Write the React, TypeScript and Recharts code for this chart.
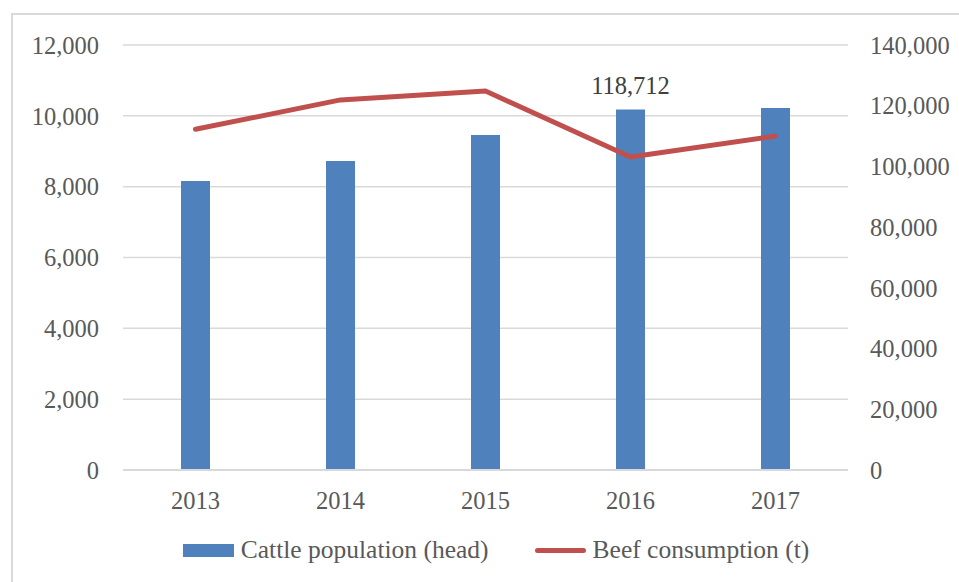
import { ComposedChart, Bar, Line, XAxis, YAxis, CartesianGrid, Legend, LabelList } from "recharts";

const years = ["2013", "2014", "2015", "2016", "2017"];
const cattle = [95200, 101800, 110350, 118712, 119250];
const beef = [9620, 10450, 10700, 8840, 9430];
const cattleLabels = ["", "", "", "118,712", ""];
const leftTicks = [0, 2000, 4000, 6000, 8000, 10000, 12000];
const rightTicks = [0, 20000, 40000, 60000, 80000, 100000, 120000, 140000];

const data = years.map((year, i) => ({
  year,
  cattle: cattle[i],
  beef: beef[i],
  label: cattleLabels[i],
}));

const FONT = "'Liberation Serif', serif";
const TEXT = "#595959";
const BLUE = "#4f81bd";
const RED = "#c0504d";

const fmt = (v: number) => v.toLocaleString("en-US");

const BarLabel = (props: any) => {
  const { x, y, width, index } = props;
  const text = cattleLabels[index];
  if (!text) return null;
  return (
    <text x={x + width / 2} y={y - 16} textAnchor="middle" fill="#404040" fontSize={24.5} fontFamily={FONT}>
      {text}
    </text>
  );
};

const LegendBox = () => (
  <div style={{ display: "flex", justifyContent: "center", alignItems: "center", fontFamily: FONT, fontSize: 25.5, color: TEXT, height: 28, paddingLeft: 33 }}>
    <span style={{ display: "inline-block", width: 51, height: 13, background: BLUE, marginRight: 7 }} />
    <span>Cattle population (head)</span>
    <span style={{ display: "inline-block", width: 51, height: 5, borderRadius: 3, background: RED, marginLeft: 46, marginRight: 7 }} />
    <span>Beef consumption (t)</span>
  </div>
);

export default function App() {
  return (
    <div style={{ position: "fixed", left: 0, top: 0, width: 959, height: 582, background: "#fff", overflow: "hidden" }}>
      <div style={{ position: "absolute", left: 11, top: 13, width: 960, height: 580, borderLeft: "2px solid #d9d9d9", borderTop: "2px solid #d9d9d9" }} />
      <ComposedChart
        width={959}
        height={582}
        data={data}
        margin={{ top: 45, right: 0, bottom: 0, left: 0 }}
        barCategoryGap="0%"
      >
        <CartesianGrid yAxisId="left" vertical={false} stroke="#d9d9d9" strokeWidth={1.5} />
        <XAxis
          dataKey="year"
          tickLine={false}
          axisLine={{ stroke: "#d9d9d9", strokeWidth: 2 }}
          tickSize={0}
          tickMargin={22}
          height={84}
          tick={{ fill: TEXT, fontSize: 24.5, fontFamily: FONT }}
        />
        <YAxis
          yAxisId="left"
          orientation="left"
          width={123}
          domain={[0, 12000]}
          ticks={leftTicks}
          tickFormatter={fmt}
          axisLine={false}
          tickLine={false}
          tickSize={0}
          tickMargin={24}
          interval={0}
          tick={{ fill: TEXT, fontSize: 24.5, fontFamily: FONT }}
        />
        <YAxis
          yAxisId="right"
          orientation="right"
          width={111}
          domain={[0, 140000]}
          ticks={rightTicks}
          tickFormatter={fmt}
          axisLine={false}
          tickLine={false}
          tickSize={0}
          tickMargin={22}
          interval={0}
          tick={{ fill: TEXT, fontSize: 24.5, fontFamily: FONT, textAnchor: "start" }}
        />
        <Bar yAxisId="right" dataKey="cattle" name="Cattle population (head)" fill={BLUE} barSize={29} isAnimationActive={false}>
          <LabelList dataKey="label" content={BarLabel} />
        </Bar>
        <Line
          yAxisId="left"
          dataKey="beef"
          name="Beef consumption (t)"
          stroke={RED}
          strokeWidth={5}
          dot={false}
          strokeLinecap="round"
          strokeLinejoin="round"
          isAnimationActive={false}
        />
        <Legend verticalAlign="bottom" content={LegendBox} wrapperStyle={{ bottom: 18 }} />
      </ComposedChart>
    </div>
  );
}
